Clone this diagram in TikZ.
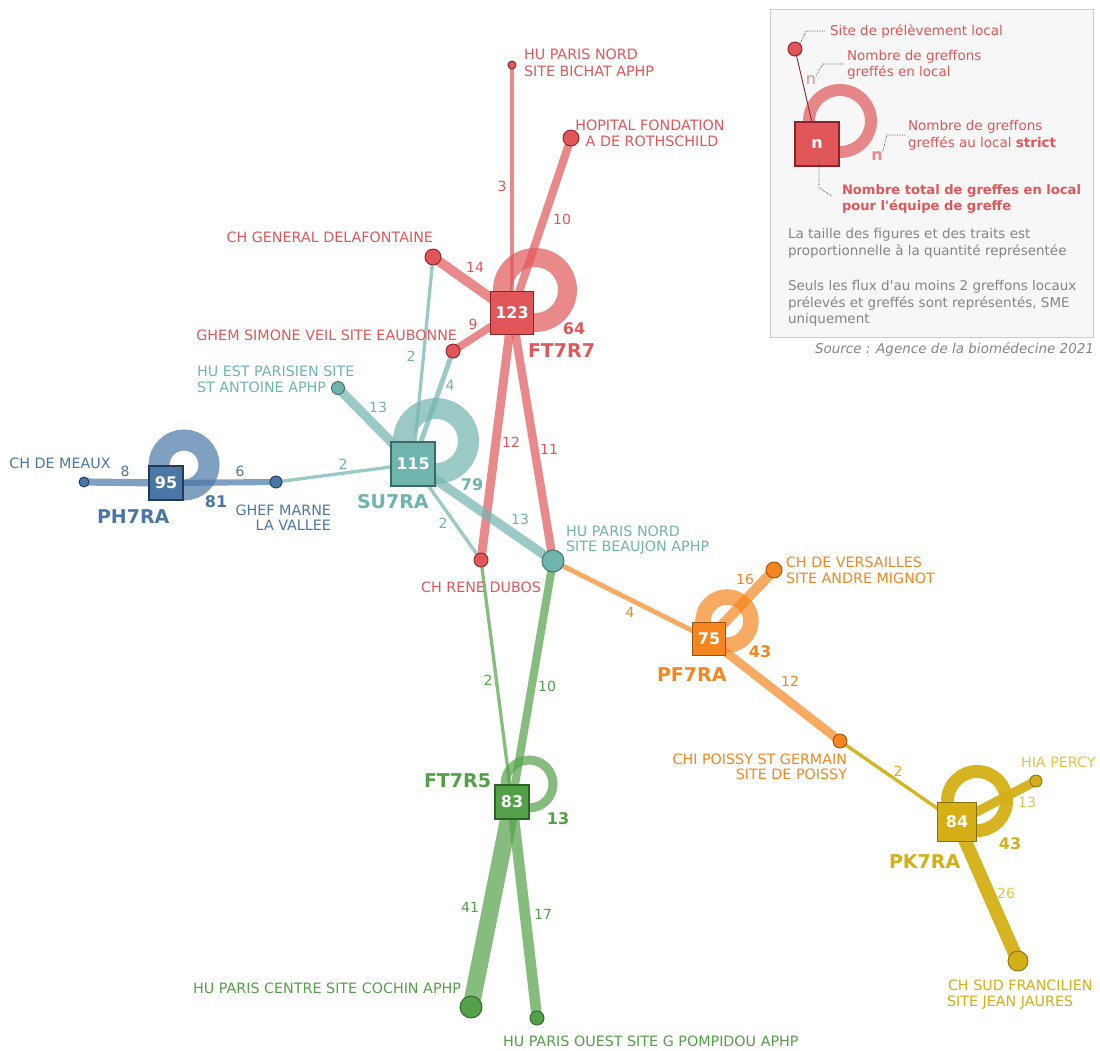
\documentclass[tikz,border=0pt]{standalone}
\usepackage{fontspec}
\setmainfont{DejaVu Sans}
\definecolor{cR}{HTML}{E15759}
\definecolor{cRd}{HTML}{8B2426}
\definecolor{cT}{HTML}{70B4AE}
\definecolor{cTd}{HTML}{3A6B67}
\definecolor{cB}{HTML}{4A77A6}
\definecolor{cBd}{HTML}{223A57}
\definecolor{cO}{HTML}{F5861F}
\definecolor{cOd}{HTML}{97520F}
\definecolor{cY}{HTML}{D4AF15}
\definecolor{cYd}{HTML}{8A700C}
\definecolor{cYl}{HTML}{E6C443}
\definecolor{cG}{HTML}{52A047}
\definecolor{cGd}{HTML}{2B6425}
\definecolor{gtxt}{HTML}{858585}
\definecolor{legbg}{HTML}{F7F7F7}
\definecolor{legbd}{HTML}{CCCCCC}
\definecolor{lead}{HTML}{444444}
\pgfdeclarelayer{bg}
\pgfsetlayers{bg,main}
\begin{document}
\begin{tikzpicture}[x=1pt,y=-1pt,
  every node/.style={inner sep=0pt, outer sep=0pt},
  lbl/.style={font=\fontsize{14.3}{16}\selectfont},
  num/.style={font=\fontsize{14}{16}\selectfont, anchor=base},
  val/.style={font=\bfseries\fontsize{16}{18}\selectfont, anchor=base},
  tname/.style={font=\bfseries\fontsize{19}{22}\selectfont, anchor=base west},
  leg/.style={font=\fontsize{13.5}{15}\selectfont, anchor=base west},
  legb/.style={font=\bfseries\fontsize{13.1}{15}\selectfont, anchor=base west},
  site/.style={circle, draw, line width=0.9pt, minimum size=#1},
  teamsq/.style={rectangle, draw, line width=1.1pt, minimum size=#1, text=white, font=\bfseries\fontsize{16}{18}\selectfont},
  fR/.style={draw=cR, draw opacity=.7, line width=#1pt},
  fT/.style={draw=cT, draw opacity=.7, line width=#1pt},
  fB/.style={draw=cB, draw opacity=.7, line width=#1pt},
  fO/.style={draw=cO, draw opacity=.7, line width=#1pt},
  fY/.style={draw=cY, draw opacity=.95, line width=#1pt},
  fG/.style={draw=cG, draw opacity=.7, line width=#1pt},
  leader/.style={draw=lead, densely dotted, line width=0.7pt}
]
\useasboundingbox (0,0) rectangle (1100,1050);

% ---------- site nodes ----------
\node[site=8pt,  fill=cR, draw=cRd] (bichat)   at (512,65)  {};
\node[site=16pt, fill=cR, draw=cRd] (roth)     at (571,138) {};
\node[site=16pt, fill=cR, draw=cRd] (delaf)    at (433,257) {};
\node[site=14pt, fill=cR, draw=cRd] (eaub)     at (453,351) {};
\node[site=14pt, fill=cR, draw=cRd] (dubos)    at (481,560) {};
\node[site=22pt, fill=cT, draw=cTd] (beaujon)  at (553,561) {};
\node[site=13pt, fill=cT, draw=cTd] (antoine)  at (338,388) {};
\node[site=10pt, fill=cB, draw=cBd] (meaux)    at (84,482)  {};
\node[site=12pt, fill=cB, draw=cBd] (marne)    at (276,482) {};
\node[site=16pt, fill=cO, draw=cOd] (versa)    at (774,570) {};
\node[site=14pt, fill=cO, draw=cOd] (poissy)   at (840,741) {};
\node[site=12pt, fill=cY, draw=cYd] (percy)    at (1036,781) {};
\node[site=20pt, fill=cY, draw=cYd] (sudfr)    at (1018,961) {};
\node[site=22pt, fill=cG, draw=cGd] (cochin)   at (471,1007) {};
\node[site=14pt, fill=cG, draw=cGd] (pompi)    at (537,1018) {};

% ---------- team squares ----------
\node[teamsq=43pt, fill=cR, draw=cRd] (ft7r7) at (512,313) {123};
\node[teamsq=44pt, fill=cT, draw=cTd] (su7ra) at (413,464) {115};
\node[teamsq=34pt, fill=cB, draw=cBd] (ph7ra) at (166,483) {95};
\node[teamsq=33pt, fill=cO, draw=cOd] (pf7ra) at (709,639) {75};
\node[teamsq=39pt, fill=cY, draw=cYd] (pk7ra) at (957,822) {84};
\node[teamsq=34pt, fill=cG, draw=cGd] (ft7r5) at (512,802) {83};

% ---------- legend nodes ----------
\node[site=14pt, fill=cR, draw=cRd] (lsite) at (795,49) {};
\node[teamsq=44pt, fill=cR, draw=cRd] (lsq) at (817,144) {n};

\begin{pgfonlayer}{bg}
  % legend box
  \draw[fill=legbg, draw=legbd, line width=1pt] (770,9) rectangle (1093,337);
  \draw[cR, draw opacity=.7, line width=12pt] (840,121) circle[radius=31pt];
  \draw[draw=cRd, line width=0.9pt] (lsite.center) -- (lsq.center);

  % rings
  \draw[cR, draw opacity=.7, line width=19pt] (535,290) circle[radius=32.5pt];
  \draw[cB, draw opacity=.7, line width=21pt] (184,465) circle[radius=25pt];
  \draw[cT, draw opacity=.7, line width=21pt] (436,441) circle[radius=32.5pt];
  \draw[cO, draw opacity=.7, line width=15.5pt] (727,621) circle[radius=24pt];
  \draw[cY, draw opacity=.95, line width=13pt] (977,801) circle[radius=29.5pt];
  \draw[cG, draw opacity=.7, line width=9pt] (529,784) circle[radius=24pt];

  % flows FT7R7
  \draw[fR=4.2] (bichat.center) -- (ft7r7.center);
  \draw[fR=8.1] (roth.center) -- (ft7r7.center);
  \draw[fR=9.7] (delaf.center) -- (ft7r7.center);
  \draw[fR=7.65] (eaub.center) -- (ft7r7.center);
  \draw[fR=8.9] (dubos.center) -- (ft7r7.center);
  \draw[fR=8.5] (beaujon.center) -- (ft7r7.center);
  % flows SU7RA
  \draw[fT=9.3] (antoine.center) -- (su7ra.center);
  \draw[fT=9.3] (beaujon.center) -- (su7ra.center);
  \draw[fT=3.3] (delaf.center) -- (su7ra.center);
  \draw[fT=4.9] (eaub.center) -- (su7ra.center);
  \draw[fT=3.3] (dubos.center) -- (su7ra.center);
  \draw[fT=3.3] (marne.center) -- (su7ra.center);
  % flows PH7RA
  \draw[fB=7.2] (meaux.center) -- (ph7ra.center);
  \draw[fB=6.1] (marne.center) -- (ph7ra.center);
  % flows PF7RA
  \draw[fO=10.4] (versa.center) -- (pf7ra.center);
  \draw[fO=4.9] (beaujon.center) -- (pf7ra.center);
  \draw[fO=8.9] (poissy.center) -- (pf7ra.center);
  % flows PK7RA
  \draw[fY=3.3] (poissy.center) -- (pk7ra.center);
  \draw[fY=9.3] (percy.center) -- (pk7ra.center);
  \draw[fY=13.4] (sudfr.center) -- (pk7ra.center);
  % flows FT7R5
  \draw[fG=3.3] (dubos.center) -- (ft7r5.center);
  \draw[fG=8.1] (beaujon.center) -- (ft7r5.center);
  \draw[fG=17] (cochin.center) -- (ft7r5.center);
  \draw[fG=10.7] (pompi.center) -- (ft7r5.center);
\end{pgfonlayer}

% ---------- flow numbers ----------
\node[num, text=cR] (n1) at (502,191) {3};
\node[num, text=cR] (n2) at (562,224) {10};
\node[num, text=cR] (n3) at (475,272) {14};
\node[num, text=cR] (n4) at (473,329) {9};
\node[num, text=cR] (n5) at (511,447) {12};
\node[num, text=cR] (n6) at (549,454) {11};
\node[num, text=cT] (n7) at (411,361) {2};
\node[num, text=cT] (n8) at (450,390) {4};
\node[num, text=cT] (n9) at (378,412) {13};
\node[num, text=cT] (n10) at (343,469) {2};
\node[num, text=cT] (n11) at (443,528) {2};
\node[num, text=cT] (n12) at (520,524) {13};
\node[num, text=cB] (n13) at (125,476) {8};
\node[num, text=cB] (n14) at (240,476) {6};
\node[num, text=cO] (n15) at (745,584) {16};
\node[num, text=cO] (n16) at (630,617) {4};
\node[num, text=cO] (n17) at (790,686) {12};
\node[num, text=cY] (n18) at (898,776) {2};
\node[num, text=cYl] (n19) at (1027,807) {13};
\node[num, text=cYl] (n20) at (1006,898) {26};
\node[num, text=cG] (n21) at (488,685) {2};
\node[num, text=cG] (n22) at (547,691) {10};
\node[num, text=cG] (n23) at (470,912) {41};
\node[num, text=cG] (n24) at (543,919) {17};

% ---------- local values ----------
\node[val, text=cR] (v1) at (574,334) {64};
\node[val, text=cB] (v2) at (216,507) {81};
\node[val, text=cT] (v3) at (472,490) {79};
\node[val, text=cO] (v4) at (760,657) {43};
\node[val, text=cY] (v5) at (1010,849) {43};
\node[val, text=cG] (v6) at (558,824) {13};

% ---------- team names ----------
\node[tname, text=cR] (t1) at (528,357) {FT7R7};
\node[tname, text=cB] (t2) at (97,523) {PH7RA};
\node[tname, text=cT] (t3) at (357,508) {SU7RA};
\node[tname, text=cO] (t4) at (657,681) {PF7RA};
\node[tname, text=cY] (t5) at (889,868) {PK7RA};
\node[tname, text=cG] (t6) at (424,787) {FT7R5};

% ---------- site labels ----------
\node[lbl, text=cR, anchor=base west] (l1a) at (524,59) {HU PARIS NORD};
\node[lbl, text=cR, anchor=base west] (l1b) at (524,76) {SITE BICHAT APHP};
\node[lbl, text=cR, anchor=base] (l2a) at (650,130) {HOPITAL FONDATION};
\node[lbl, text=cR, anchor=base] (l2b) at (652,146) {A DE ROTHSCHILD};
\node[lbl, text=cR, anchor=base east] (l3) at (433,242) {CH GENERAL DELAFONTAINE};
\node[lbl, text=cR, anchor=base east] (l4) at (457,340) {GHEM SIMONE VEIL SITE EAUBONNE};
\node[lbl, text=cT, anchor=base west] (l5a) at (197,376) {HU EST PARISIEN SITE};
\node[lbl, text=cT, anchor=base west] (l5b) at (197,392) {ST ANTOINE APHP};
\node[lbl, text=cB, anchor=base] (l6) at (60,468) {CH DE MEAUX};
\node[lbl, text=cB, anchor=base east] (l7a) at (331,515) {GHEF MARNE};
\node[lbl, text=cB, anchor=base east] (l7b) at (331,530) {LA VALLEE};
\node[lbl, text=cT, anchor=base west] (l8a) at (566,536) {HU PARIS NORD};
\node[lbl, text=cT, anchor=base west] (l8b) at (566,551) {SITE BEAUJON APHP};
\node[lbl, text=cR, anchor=base] (l9) at (481,592) {CH RENE DUBOS};
\node[lbl, text=cO, anchor=base west] (l10a) at (786,567) {CH DE VERSAILLES};
\node[lbl, text=cO, anchor=base west] (l10b) at (786,583) {SITE ANDRE MIGNOT};
\node[lbl, text=cO, anchor=base east] (l11a) at (847,764) {CHI POISSY ST GERMAIN};
\node[lbl, text=cO, anchor=base east] (l11b) at (847,779) {SITE DE POISSY};
\node[lbl, text=cYl, anchor=base west] (l12) at (1021,767) {HIA PERCY};
\node[lbl, text=cY, anchor=base west] (l13a) at (948,990) {CH SUD FRANCILIEN};
\node[lbl, text=cY, anchor=base west] (l13b) at (947,1006) {SITE JEAN JAURES};
\node[lbl, text=cG, anchor=base east] (l14) at (461,993) {HU PARIS CENTRE SITE COCHIN APHP};
\node[lbl, text=cG, anchor=base west] (l15) at (503,1046) {HU PARIS OUEST SITE G POMPIDOU APHP};

% ---------- legend texts ----------
\node[font=\fontsize{16}{18}\selectfont, text=cR!70] (ln1) at (811,80) {n};
\node[font=\bfseries\fontsize{16}{18}\selectfont, text=cR!70] (ln2) at (877,156) {n};
\coordinate (c1) at (806,31);
\coordinate (c2) at (823,64);
\coordinate (c3) at (887,135);
\coordinate (c4) at (819,188);
\draw[leader] (lsite.north east) -- (c1) -- ++(19,0);
\draw[leader] (ln1.north east) -- (c2) -- ++(21,0);
\draw[leader] (ln2.north east) -- (c3) -- ++(19,0);
\draw[leader] (lsq.center) ++(2,13) -- (c4) -- ++(13,8);
\node[leg, text=cR] (g1) at (830,35) {Site de prélèvement local};
\node[leg, text=cR] (g2a) at (847,60) {Nombre de greffons};
\node[leg, text=cR] (g2b) at (847,76) {greffés en local};
\node[leg, text=cR] (g3a) at (908,130) {Nombre de greffons};
\node[leg, text=cR] (g3b) at (908,147) {greffés au local \textbf{strict}};
\node[legb, text=cR] (g4a) at (842,194) {Nombre total de greffes en local};
\node[legb, text=cR] (g4b) at (842,210) {pour l\textquotesingle équipe de greffe};
\node[leg, text=gtxt] (g5a) at (788,238) {La taille des figures et des traits est};
\node[leg, text=gtxt] (g5b) at (788,255) {proportionnelle à la quantité représentée};
\node[leg, text=gtxt] (g6a) at (788,290) {Seuls les flux d\textquotesingle au moins 2 greffons locaux};
\node[leg, text=gtxt] (g6b) at (788,307) {prélevés et greffés sont représentés, SME};
\node[leg, text=gtxt] (g6c) at (788,323) {uniquement};
\node[leg, text=gtxt, anchor=base east, font=\itshape\fontsize{13.5}{15}\selectfont] (src) at (1094,353) {Source : Agence de la biomédecine 2021};
\end{tikzpicture}
\end{document}
